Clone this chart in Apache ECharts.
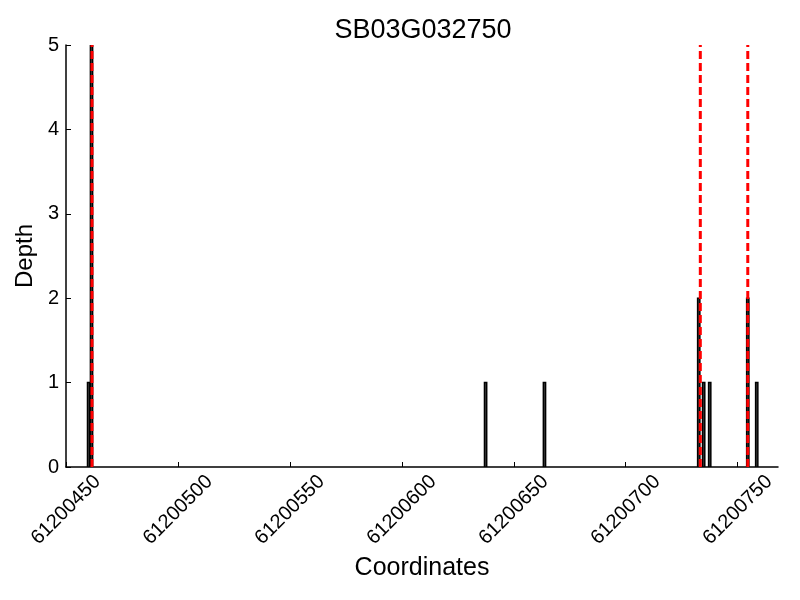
<!DOCTYPE html>
<html>
<head>
<meta charset="utf-8">
<script src="https://cdn.jsdelivr.net/npm/echarts@6/dist/echarts.min.js"></script>
<style>
  html, body { margin: 0; padding: 0; background: #fff; }
  #plot { width: 800px; height: 600px; }
</style>
</head>
<body>
<div id="plot"></div>
<script>
// coverage bins: centre coordinate of each 1bp bar and its depth
const positions = [61200460.1, 61200461.4, 61200637.4, 61200663.7, 61200732.6, 61200734.8, 61200737.5, 61200754.5, 61200758.5];
const depths = [1, 5, 1, 1, 2, 1, 1, 2, 1];
// red dashed marker positions
const markers = [61200461.6, 61200733.3, 61200754.5];
const xMin = 61200450;
const xMax = 61200768;

const font = "'Liberation Sans', Arial, sans-serif";
const chart = echarts.init(document.getElementById("plot"));

const bars = positions.map((p, i) => [p - 0.5, p + 0.5, depths[i]]);

chart.setOption({
  animation: false,
  backgroundColor: "#fff",
  title: {
    text: "SB03G032750",
    left: 418,
    top: 12,
    textAlign: "center",
    textStyle: { fontFamily: font, fontSize: 27, fontWeight: "normal", color: "#000" },
  },
  grid: { left: 66, right: 22, top: 45, bottom: 133 },
  xAxis: {
    type: "value",
    min: xMin,
    max: xMax,
    interval: 50,
    name: "Coordinates",
    nameLocation: "middle",
    nameGap: 89,
    nameTextStyle: { fontFamily: font, fontSize: 25, color: "#000" },
    axisLine: { lineStyle: { color: "#000", width: 1.5 } },
    axisTick: { inside: true, length: 5, lineStyle: { color: "#000" } },
    axisLabel: {
      rotate: 45,
      align: "center",
      verticalAlign: "middle",
      fontFamily: font,
      fontSize: 20,
      color: "#000",
      margin: 43,
      showMinLabel: true,
      showMaxLabel: false,
      formatter: (v) => (v % 50 === 0 ? String(v) : ""),
    },
    splitLine: { show: false },
  },
  yAxis: {
    type: "value",
    min: 0,
    max: 5,
    interval: 1,
    name: "Depth",
    nameLocation: "middle",
    nameGap: 27,
    nameTextStyle: { fontFamily: font, fontSize: 24, color: "#000" },
    axisLine: { show: true, lineStyle: { color: "#000", width: 1.5 } },
    axisTick: { show: true, inside: true, length: 5, lineStyle: { color: "#000" } },
    axisLabel: { fontFamily: font, fontSize: 20, color: "#000", margin: 7 },
    splitLine: { show: false },
  },
  series: [
    {
      type: "custom",
      clip: true,
      data: bars,
      encode: { x: [0, 1], y: 2 },
      renderItem: function (params, api) {
        const a = api.coord([api.value(0), api.value(2)]);
        const b = api.coord([api.value(1), 0]);
        return {
          type: "rect",
          shape: { x: a[0], y: a[1], width: b[0] - a[0], height: b[1] - a[1] },
          style: { fill: "#404040", stroke: "#000", lineWidth: 1.5 },
        };
      },
    },
    ...markers.map((m) => ({
      type: "line",
      data: [[m, 0], [m, 5]],
      symbol: "none",
      lineStyle: { color: "#ff0000", width: 3, type: [8, 4] },
      z: 5,
    })),
  ],
});
</script>
</body>
</html>
